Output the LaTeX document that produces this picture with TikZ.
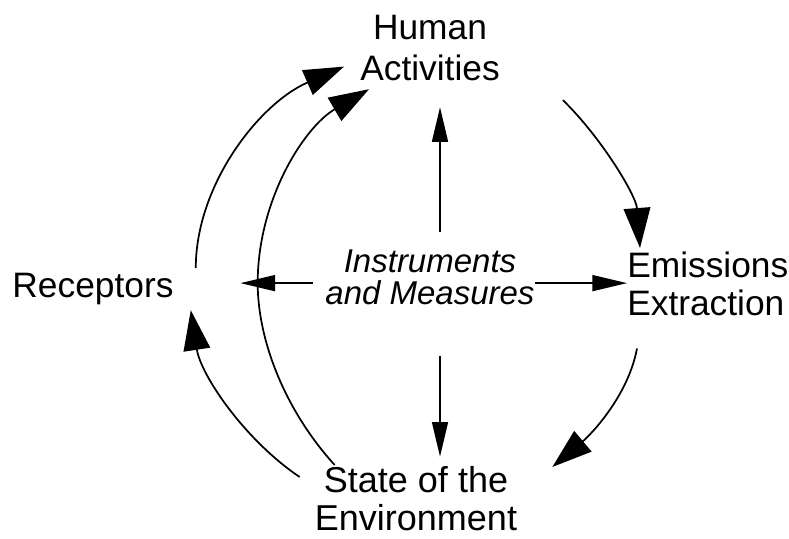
\documentclass[tikz,border=0pt]{standalone}
\usepackage{fontspec}
\setmainfont{Liberation Sans}
\usetikzlibrary{arrows.meta}

\begin{document}
\begin{tikzpicture}[x=0.75pt,y=-0.75pt,
    stage/.style={inner sep=0pt,align=center,
                  font=\fontsize{26.5}{30.75}\selectfont},
    tool/.style={inner sep=0pt,align=center,
                 font=\fontsize{24.75}{24}\selectfont\itshape},
    link/.style={line width=1.2pt,-{Triangle[length=26pt,width=12pt]}},
    loop/.style={line width=1.3pt,-{Triangle[length=30pt,width=20pt]}}]
    \useasboundingbox (0,0) rectangle (789,539);

    \node[stage,anchor=north] (human) at (430,15) {Human\\Activities};
    \node[stage,anchor=north] (rec) at (93,273) {Receptors};
    \node[stage,anchor=north west,align=left,
          font=\fontsize{26.5}{28.5}\selectfont] (emis) at (627,252)
          {Emissions\\Extraction};
    \node[stage,anchor=north,font=\fontsize{27}{28.5}\selectfont]
          (state) at (416,466) {State of the\\Environment};
    \node[tool,anchor=north] (instr) at (430,250) {Instruments\\and Measures};

    % policy instruments act in four directions
    \draw[link,shorten <=13.5pt,shorten >=19.5pt]
        ([xshift=7.5pt]instr.north) -- ([xshift=7.5pt]instr.north |- human.south);
    \draw[link,shorten <=37.5pt,shorten >=7pt]
        ([xshift=7.5pt]instr.south) -- ([xshift=7.5pt]instr.south |- state.north);
    \draw[link,shorten <=9pt,shorten >=50pt]
        ([yshift=-4pt]instr.west) -- ([yshift=-4pt]instr.west -| rec.east);
    \draw[link]
        ([yshift=-4pt]instr.east) -- ([yshift=-4pt]instr.east -| emis.west);

    % the cycle
    \draw[loop] ([shift={(63,19)}]human.south east)
        .. controls +(38,37) and +(-4,-53) .. ([shift={(13,-4)}]emis.north west);
    \draw[loop] ([shift={(10,32)}]emis.south west)
        .. controls +(-9,48) and +(38,-32) .. ([shift={(35,1)}]state.north east);
    \draw[loop] ([shift={(-15,11)}]state.north west)
        .. controls +(-55,-37) and +(10,65) .. ([shift={(17,5)}]rec.south east);
    \draw[loop] ([shift={(22,-5)}]rec.north east)
        .. controls +(0,-83) and +(-85,37) .. ([shift={(-16,18.5)}]human.west);
    \draw[loop] ([shift={(20,-1)}]state.north west)
        .. controls +(-50,-55) and +(0,57) .. ++(-77,-182)
        .. controls +(0,-83) and +(-65,38) .. ([shift={(9,8)}]human.south west);
\end{tikzpicture}
\end{document}
